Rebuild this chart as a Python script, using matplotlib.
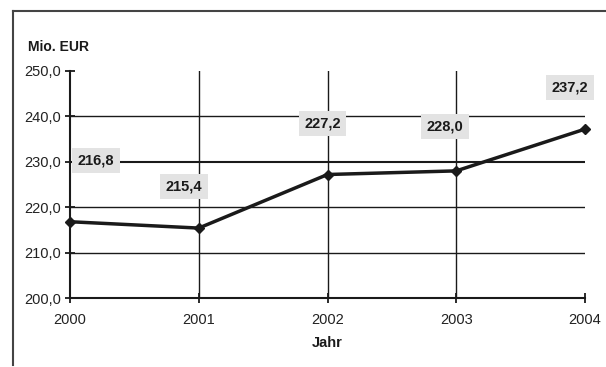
import matplotlib.pyplot as plt
import matplotlib.lines as mlines

plt.rcParams['font.family'] = ['Liberation Sans', 'DejaVu Sans']

years = [2000, 2001, 2002, 2003, 2004]
values = [216.8, 215.4, 227.2, 228.0, 237.2]
# label offsets in pixels from each point
label_offsets = [(26, 61), (-15, 42), (-5, 51), (-11, 44), (-15, 42)]
y_ticks = [200, 210, 220, 230, 240, 250]

fig = plt.figure(figsize=(6.06, 3.67), dpi=100)
ax = fig.add_axes([70 / 606, 1 - 298 / 367, 515 / 606, 227 / 367])

# outer frame (top and left only)
fig.add_artist(mlines.Line2D([13 / 606, 1], [1 - 10.5 / 367] * 2, color='#444444', lw=1.5,
                             transform=fig.transFigure))
fig.add_artist(mlines.Line2D([13 / 606] * 2, [1 - 10.5 / 367, 1 - 365 / 367], color='#444444', lw=1.5,
                             transform=fig.transFigure))

ax.set_xlim(2000, 2004)
ax.set_ylim(200, 250)

for v in y_ticks[1:-1]:
    ax.axhline(v, color='#1a1a1a', lw=1.5 if v == 230 else 1.0, zorder=1)
for yr in years[1:-1]:
    ax.axvline(yr, color='#1a1a1a', lw=1.0, zorder=1)

ax.plot(years, values, color='#1a1a1a', lw=2.5, marker='D', markersize=5.5, zorder=3, clip_on=False)

for yr, v, (dx, dy) in zip(years, values, label_offsets):
    ax.annotate(f'{v:.1f}'.replace('.', ','), (yr, v), xytext=(dx, dy), textcoords='offset pixels',
                ha='center', va='center', fontsize=10.5, fontweight='bold', color='#1a1a1a',
                bbox=dict(boxstyle='square,pad=0.38', fc='#e3e3e3', ec='none'), zorder=4)

for s in ['top', 'right']:
    ax.spines[s].set_visible(False)
for s in ['left', 'bottom']:
    ax.spines[s].set_linewidth(1.5)
    ax.spines[s].set_color('#1a1a1a')

ax.set_yticks(y_ticks)
ax.set_yticklabels([f'{t:.1f}'.replace('.', ',') for t in y_ticks])
ax.set_xticks(years)
ax.set_xticklabels([str(y) for y in years])
ax.tick_params(direction='inout', length=7, width=1.3, color='#1a1a1a', labelsize=10.5,
               labelcolor='#222222')
ax.tick_params(axis='x', pad=7)
ax.tick_params(axis='y', pad=3)

fig.text(28 / 606, 1 - 47 / 367, 'Mio. EUR', fontsize=10, fontweight='bold', va='center', ha='left',
         color='#1a1a1a')
fig.text(327 / 606, 1 - 343 / 367, 'Jahr', fontsize=10.5, fontweight='bold', va='center', ha='center',
         color='#1a1a1a')

fig.savefig('out.png', dpi=100)
